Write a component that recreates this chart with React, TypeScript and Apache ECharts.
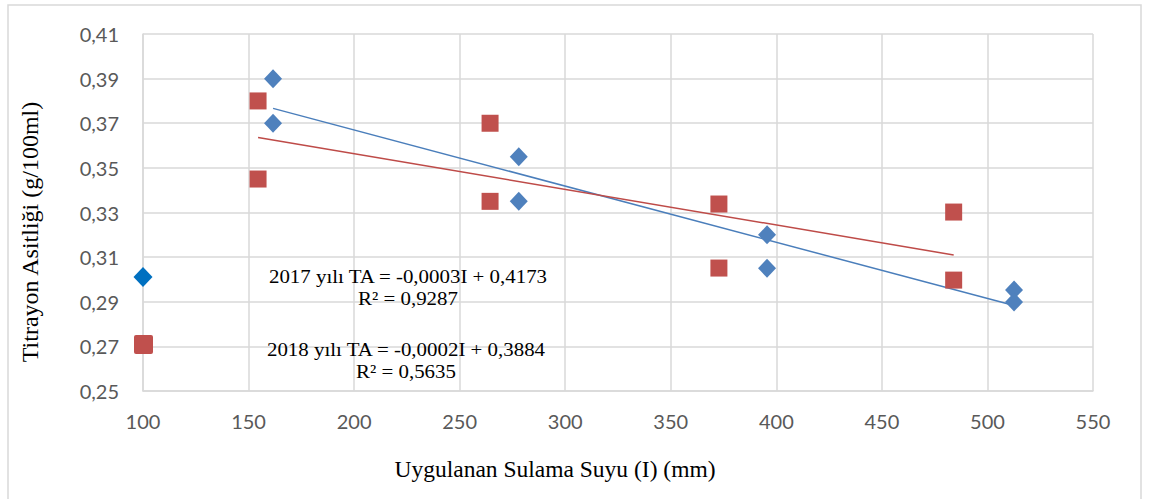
import React, { useEffect, useRef } from "react";
import * as echarts from "echarts";

const xTicks = [100, 150, 200, 250, 300, 350, 400, 450, 500, 550];
const yTicks = [0.25, 0.27, 0.29, 0.31, 0.33, 0.35, 0.37, 0.39, 0.41];

const x2017 = [161.6, 161.6, 278, 278, 395.6, 395.6, 512.6, 512.6];
const y2017 = [0.39, 0.37, 0.355, 0.335, 0.32, 0.305, 0.2953, 0.2899];

const x2018 = [154.5, 154.5, 264.4, 264.4, 372.8, 372.8, 484, 484];
const y2018 = [0.38, 0.345, 0.37, 0.335, 0.3338, 0.3051, 0.3302, 0.2997];

const eq2017 = "2017 yılı TA = -0,0003I + 0,4173";
const r2017 = "R² = 0,9287";
const eq2018 = "2018 yılı TA = -0,0002I + 0,3884";
const r2018 = "R² = 0,5635";

const xTitle = "Uygulanan Sulama Suyu (I) (mm)";
const yTitle = "Titrayon Asitliği (g/100ml)";

function trend(xs: number[], ys: number[]) {
  const n = xs.length;
  const mx = xs.reduce((a, b) => a + b, 0) / n;
  const my = ys.reduce((a, b) => a + b, 0) / n;
  let sxy = 0;
  let sxx = 0;
  for (let i = 0; i < n; i++) {
    sxy += (xs[i] - mx) * (ys[i] - my);
    sxx += (xs[i] - mx) * (xs[i] - mx);
  }
  const b = sxy / sxx;
  const a = my - b * mx;
  const x0 = Math.min(...xs);
  const x1 = Math.max(...xs);
  return [
    [x0, a + b * x0],
    [x1, a + b * x1],
  ];
}

export default function App() {
  const ref = useRef<HTMLDivElement>(null);
  useEffect(() => {
    if (!ref.current) return;
    const chart = echarts.init(ref.current, null, { renderer: "svg" });
    const serif = "'Liberation Serif', 'Times New Roman', serif";
    const sans = "Lato, 'Open Sans', sans-serif";
    const legendText = (x: number, y: number, text: string) => ({
      type: "text",
      x,
      y,
      scaleX: 1.1,
      style: {
        text,
        font: `19px ${serif}`,
        fill: "#000",
        align: "center",
        verticalAlign: "middle",
      },
      z: 10,
    });
    chart.setOption({
      animation: false,
      backgroundColor: "#ffffff",
      grid: { left: 143, right: 60, top: 34, bottom: 108, containLabel: false },
      xAxis: {
        type: "value",
        min: xTicks[0],
        max: xTicks[xTicks.length - 1],
        interval: 50,
        axisLine: { show: true, lineStyle: { color: "#d9d9d9", width: 1.5 } },
        axisTick: { show: false },
        splitLine: { show: true, lineStyle: { color: "#d9d9d9", width: 1.5 } },
        axisLabel: { color: "#595959", fontFamily: sans, fontSize: 20, margin: 20 },
      },
      yAxis: {
        type: "value",
        min: yTicks[0],
        max: yTicks[yTicks.length - 1],
        interval: 0.02,
        axisLine: { show: true, lineStyle: { color: "#d9d9d9", width: 1.5 } },
        axisTick: { show: false },
        splitLine: { show: true, lineStyle: { color: "#d9d9d9", width: 1.5 } },
        axisLabel: {
          color: "#595959",
          fontFamily: sans,
          fontSize: 20,
          margin: 24,
          formatter: (v: number) => v.toFixed(2).replace(".", ","),
        },
      },
      series: [
        {
          name: "2017 trend",
          type: "line",
          data: trend(x2017, y2017),
          showSymbol: false,
          symbol: "none",
          lineStyle: { color: "#4a7ebb", width: 1.5 },
          z: 2,
        },
        {
          name: "2018 trend",
          type: "line",
          data: trend(x2018, y2018),
          showSymbol: false,
          symbol: "none",
          lineStyle: { color: "#be4b48", width: 1.5 },
          z: 2,
        },
        {
          name: "2017",
          type: "scatter",
          data: x2017.map((x, i) => [x, y2017[i]]),
          symbol: "diamond",
          symbolSize: [18, 19],
          itemStyle: { color: "#4F81BD", opacity: 1 },
          z: 3,
        },
        {
          name: "2018",
          type: "scatter",
          data: x2018.map((x, i) => [x, y2018[i]]),
          symbol: "rect",
          symbolSize: 17,
          itemStyle: { color: "#C0504D", opacity: 1 },
          z: 3,
        },
      ],
      graphic: [
        {
          type: "rect",
          shape: { x: 8, y: 5, width: 1133, height: 520 },
          style: { fill: "none", stroke: "#d9d9d9", lineWidth: 1.5 },
          silent: true,
        },
        {
          type: "polygon",
          shape: { points: [[143, 267], [152.5, 277], [143, 287], [133.5, 277]] },
          style: { fill: "#0070C0" },
          z: 10,
        },
        {
          type: "rect",
          shape: { x: 134, y: 335, width: 19, height: 19, r: 2 },
          style: { fill: "#C0504D" },
          z: 10,
        },
        legendText(408, 276.5, eq2017),
        legendText(408, 298.5, r2017),
        legendText(406, 349.5, eq2018),
        legendText(406, 371.5, r2018),
        {
          type: "text",
          x: 555,
          y: 469,
          style: { text: xTitle, font: `23.5px ${serif}`, fill: "#000", align: "center", verticalAlign: "middle" },
          z: 10,
        },
        {
          type: "text",
          x: 30,
          y: 232,
          rotation: Math.PI / 2,
          style: { text: yTitle, font: `24px ${serif}`, fill: "#000", align: "center", verticalAlign: "middle" },
          z: 10,
        },
      ],
    });
    return () => chart.dispose();
  }, []);
  return (
    <div
      ref={ref}
      style={{ position: "absolute", left: 0, top: 0, width: 1153, height: 499 }}
    />
  );
}
